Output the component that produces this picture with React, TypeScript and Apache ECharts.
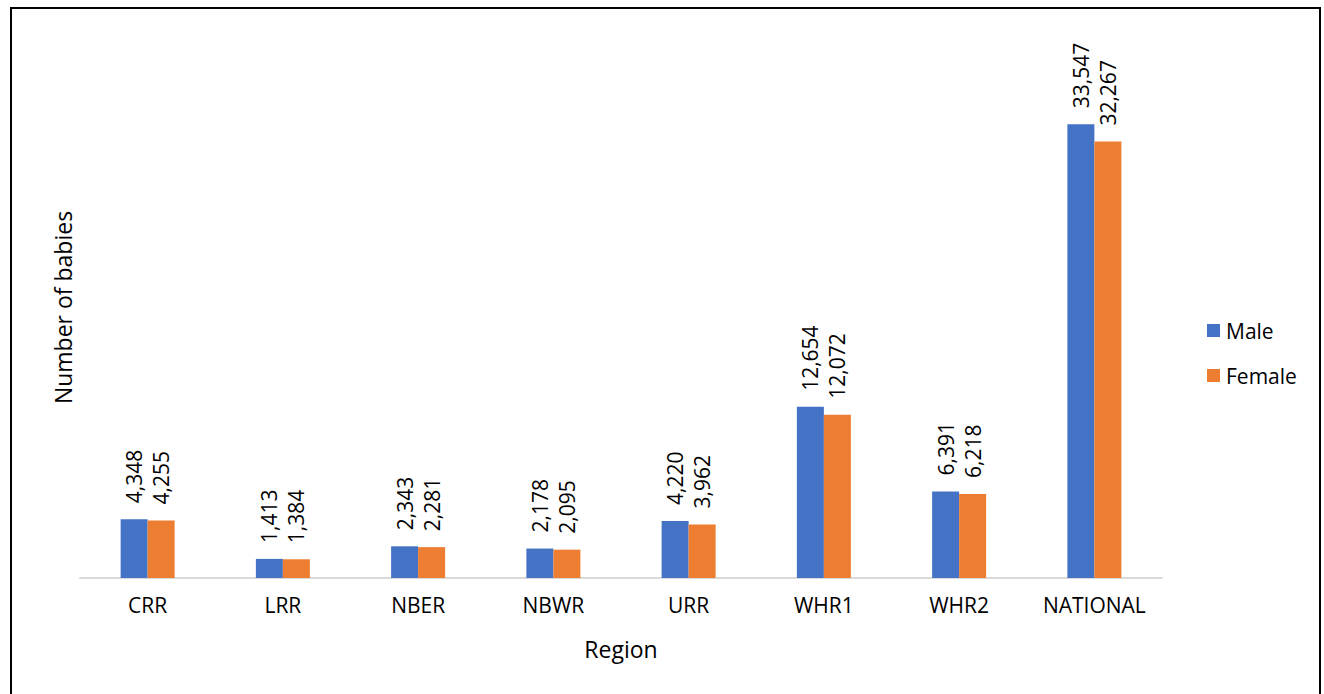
import React, { useEffect, useRef } from "react";
import * as echarts from "echarts";

const regions = ["CRR", "LRR", "NBER", "NBWR", "URR", "WHR1", "WHR2", "NATIONAL"];
const maleValues = [4348, 1413, 2343, 2178, 4220, 12654, 6391, 33547];
const femaleValues = [4255, 1384, 2281, 2095, 3962, 12072, 6218, 32267];
const seriesNames = ["Male", "Female"];

const FONT = "'Open Sans', 'Noto Sans', sans-serif";

export default function App() {
  const ref = useRef<HTMLDivElement>(null);
  useEffect(() => {
    if (!ref.current) return;
    const chart = echarts.init(ref.current, null, { renderer: "svg" });
    const fmt = (p: any) => Number(p.value).toLocaleString("en-US");
    const label = {
      show: true,
      position: "top",
      rotate: 90,
      align: "left",
      verticalAlign: "middle",
      distance: 16,
      fontSize: 21,
      fontFamily: FONT,
      color: "#000",
      formatter: fmt,
    };
    chart.setOption({
      animation: false,
      backgroundColor: "#fff",
      textStyle: { fontFamily: FONT },
      legend: {
        orient: "vertical",
        left: 1202,
        top: 315,
        itemWidth: 13,
        itemHeight: 13,
        itemGap: 24,
        icon: "rect",
        textStyle: { fontSize: 21, color: "#000", fontFamily: FONT, padding: [0, 0, 0, 1] },
        data: seriesNames,
      },
      grid: { left: 80, right: 162, top: 37, bottom: 116 },
      xAxis: {
        type: "category",
        data: regions,
        axisLine: { lineStyle: { color: "#d9d9d9", width: 2 } },
        axisTick: { show: false },
        axisLabel: { fontSize: 21, color: "#000", margin: 16, fontFamily: FONT },
        name: "Region",
        nameLocation: "middle",
        nameGap: 59,
        nameTextStyle: { fontSize: 23, color: "#000", fontFamily: FONT },
      },
      yAxis: {
        type: "value",
        min: 0,
        max: 40000,
        axisLine: { show: false },
        axisTick: { show: false },
        axisLabel: { show: false },
        splitLine: { show: false },
        name: "Number of babies",
        nameLocation: "middle",
        nameGap: 6,
        nameTextStyle: { fontSize: 23, color: "#000", fontFamily: FONT },
      },
      series: [
        {
          name: seriesNames[0],
          type: "bar",
          data: maleValues,
          barWidth: 27,
          barGap: "0%",
          itemStyle: { color: "#4472C4" },
          label,
        },
        {
          name: seriesNames[1],
          type: "bar",
          data: femaleValues,
          barWidth: 27,
          barGap: "0%",
          itemStyle: { color: "#ED7D31" },
          label,
        },
      ],
    });
    return () => chart.dispose();
  }, []);
  return (
    <div style={{ position: "fixed", left: 0, top: 0, width: 1324, height: 694, background: "#fff" }}>
      <div ref={ref} style={{ position: "absolute", left: 0, top: 0, width: 1324, height: 694 }} />
      <div
        style={{
          position: "absolute",
          left: 10,
          top: 7,
          width: 1311,
          height: 720,
          border: "2.5px solid #000",
          boxSizing: "border-box",
          pointerEvents: "none",
        }}
      />
    </div>
  );
}
